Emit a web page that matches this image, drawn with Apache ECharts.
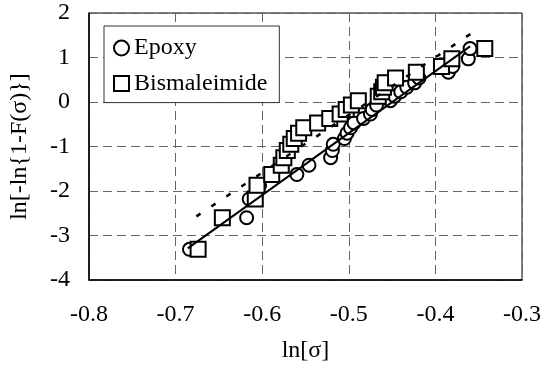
<!DOCTYPE html>
<html>
<head>
<meta charset="utf-8">
<script src="https://cdn.jsdelivr.net/npm/echarts@6/dist/echarts.min.js"></script>
<style>
  html, body { margin: 0; padding: 0; background: #fff; }
  #main { width: 548px; height: 371px; }
</style>
</head>
<body>
<div id="main"></div>
<script>
// ln(sigma) per rank, epoxy
const epoxyX = [-0.684, -0.618, -0.615, -0.603, -0.560, -0.546, -0.521, -0.519, -0.518, -0.505,
  -0.502, -0.498, -0.494, -0.483, -0.475, -0.473, -0.468, -0.452, -0.447, -0.440,
  -0.433, -0.424, -0.419, -0.385, -0.380, -0.362, -0.360];
// ln(sigma) per rank, bismaleimide
const bmiX = [-0.674, -0.646, -0.608, -0.606, -0.589, -0.578, -0.575, -0.571, -0.567, -0.563,
  -0.558, -0.552, -0.536, -0.522, -0.510, -0.503, -0.497, -0.489, -0.466, -0.462,
  -0.460, -0.458, -0.446, -0.422, -0.393, -0.381, -0.343];
// ln[-ln{1-F}] per rank (same for both)
const rankY = [-3.31, -2.60, -2.18, -1.87, -1.63, -1.42, -1.25, -1.09, -0.95, -0.82,
  -0.70, -0.58, -0.47, -0.37, -0.27, -0.17, -0.07, 0.03, 0.13, 0.23,
  0.33, 0.43, 0.54, 0.67, 0.80, 0.97, 1.20];
// fitted lines (end points)
const epoxyFitX = [-0.686, -0.360];
const epoxyFitY = [-3.29, 1.25];
const bmiFitX = [-0.676, -0.3485];
const bmiFitY = [-2.57, 1.67];

const xTicks = [-0.8, -0.3, 0.1]; // min, max, step
const yTicks = [-4, 2, 1];

const pairs = (xs, ys) => xs.map((x, i) => [x, ys[i]]);

var chartDom = document.getElementById('main');
var myChart = echarts.init(chartDom);
var font = 'Liberation Serif';
var option = {
    animation: false,
    textStyle: { fontFamily: font },
    grid: {
        left: 89, right: 26, top: 13, bottom: 91,
        show: true, borderColor: '#000', borderWidth: 1
    },
    legend: {
        data: ['Epoxy', 'Bismaleimide'],
        orient: 'vertical',
        left: 104, top: 26,
        padding: [10, 12, 7, 9],
        itemGap: 11.6,
        itemWidth: 15, itemHeight: 15,
        borderColor: '#333', borderWidth: 1,
        backgroundColor: '#fff',
        textStyle: { fontFamily: font, fontSize: 24, color: '#000', lineHeight: 24 }
    },
    xAxis: {
        type: 'value',
        min: xTicks[0], max: xTicks[1], interval: xTicks[2],
        name: 'ln[σ]',
        nameLocation: 'middle', nameGap: 59,
        nameTextStyle: { fontFamily: font, fontSize: 24, color: '#000' },
        axisLine: { onZero: false, lineStyle: { color: '#000', width: 1.5 } },
        axisTick: { show: false },
        axisLabel: { fontFamily: font, fontSize: 24, color: '#000', margin: 23,
            formatter: v => v.toFixed(1) },
        splitLine: { lineStyle: { color: '#666', type: [9, 5], width: 1 } }
    },
    yAxis: {
        type: 'value',
        min: yTicks[0], max: yTicks[1], interval: yTicks[2],
        name: 'ln[-ln{1-F(σ)}]',
        nameLocation: 'middle', nameGap: 57,
        nameTextStyle: { fontFamily: font, fontSize: 24, color: '#000' },
        axisLine: { onZero: false, lineStyle: { color: '#000', width: 1.5 } },
        axisTick: { show: false },
        axisLabel: { fontFamily: font, fontSize: 24, color: '#000', margin: 19 },
        splitLine: { lineStyle: { color: '#666', type: [9, 5], width: 1 } }
    },
    series: [
        {
            name: 'Epoxy',
            type: 'scatter',
            symbol: 'circle',
            symbolSize: 13,
            itemStyle: { color: '#fff', borderColor: '#000', borderWidth: 2, opacity: 1 },
            data: pairs(epoxyX, rankY),
            z: 2
        },
        {
            name: 'Bismaleimide',
            type: 'scatter',
            symbol: 'rect',
            symbolSize: 15,
            itemStyle: { color: '#fff', borderColor: '#000', borderWidth: 2, opacity: 1 },
            data: pairs(bmiX, rankY),
            z: 3
        },
        {
            name: 'fitEpoxy',
            type: 'line',
            symbol: 'none',
            lineStyle: { color: '#000', width: 2 },
            data: pairs(epoxyFitX, epoxyFitY),
            z: 4
        },
        {
            name: 'fitBmi',
            type: 'line',
            symbol: 'none',
            lineStyle: { color: '#000', width: 2.5, type: [5, 13] },
            data: pairs(bmiFitX, bmiFitY),
            z: 4
        }
    ]
};
option && myChart.setOption(option);
</script>
</body>
</html>
